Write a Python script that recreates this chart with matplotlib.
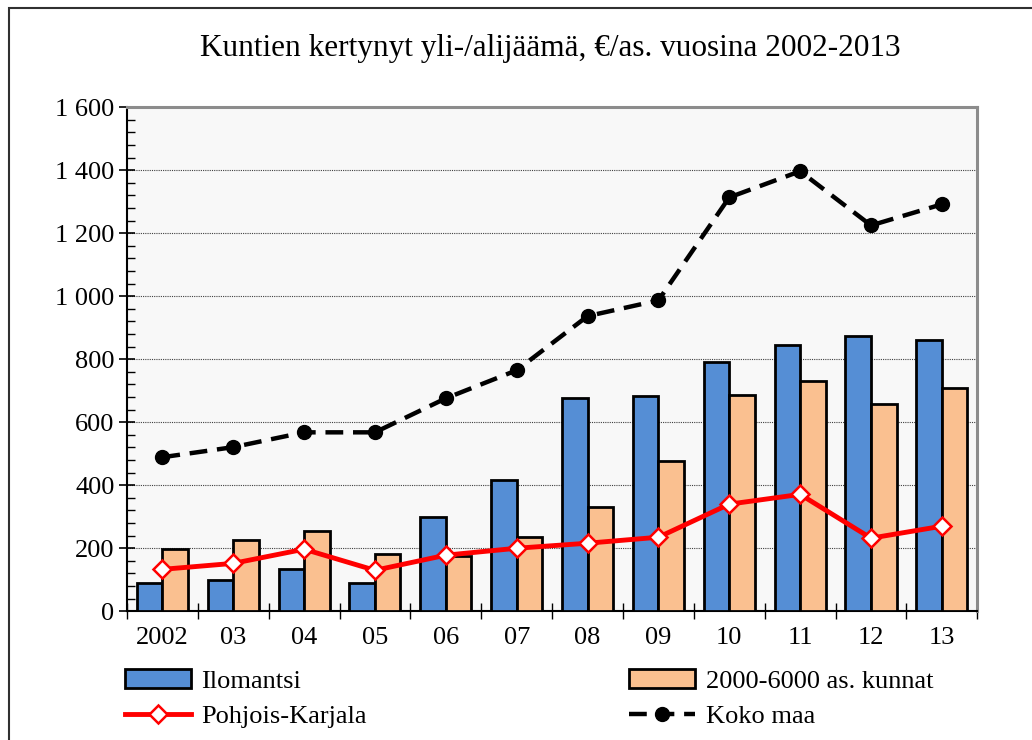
import numpy as np
import matplotlib.pyplot as plt
from matplotlib.ticker import FuncFormatter, MultipleLocator
from matplotlib.patches import Rectangle

plt.rcParams['font.family'] = ['Liberation Serif', 'DejaVu Serif']

# Data
years = ["2002", "03", "04", "05", "06", "07", "08", "09", "10", "11", "12", "13"]
ilomantsi = [89, 98, 133, 89, 298, 416, 676, 683, 790, 845, 873, 860]
kunnat = [197, 225, 254, 181, 175, 237, 330, 476, 686, 730, 657, 708]
pohjois_karjala = [133, 152, 197, 130, 178, 200, 216, 235, 340, 371, 232, 270]
koko_maa = [489, 521, 568, 568, 676, 765, 937, 987, 1314, 1397, 1225, 1292]

fig = plt.figure(figsize=(10.32, 7.4), dpi=100)
ax = fig.add_axes([0.123, 0.174, 0.824, 0.681])
ax.set_facecolor('#f8f8f8')

x = np.arange(len(years))
w = 0.36
b1 = ax.bar(x - w / 2, ilomantsi, w, color='#558ed5', edgecolor='black', linewidth=2,
            label='Ilomantsi', zorder=3)
b2 = ax.bar(x + w / 2, kunnat, w, color='#fac090', edgecolor='black', linewidth=2,
            label='2000-6000 as. kunnat', zorder=3)
l1, = ax.plot(x, pohjois_karjala, color='#ff0000', linewidth=3.5, marker='D', markersize=9,
              markerfacecolor='white', markeredgecolor='#ff0000', markeredgewidth=1.8,
              label='Pohjois-Karjala', zorder=4)
l2, = ax.plot(x, koko_maa, color='black', linewidth=3.2, dashes=(4, 2.2), marker='o',
              markersize=10, label='Koko maa', zorder=5)

ax.set_xlim(-0.5, len(years) - 0.5)
ax.set_ylim(0, 1600)
ax.yaxis.set_major_locator(MultipleLocator(200))
ax.yaxis.set_minor_locator(MultipleLocator(40))
ax.yaxis.set_major_formatter(FuncFormatter(lambda v, p: f"{int(v):,}".replace(",", " ")))
ax.grid(axis='y', which='major', color='#404040', linestyle=(0, (1, 1)), linewidth=0.8, zorder=1)

ax.set_xticks(x)
ax.set_xticklabels(years)
ax.set_xticks(np.arange(-0.5, len(years)), minor=True)
ax.tick_params(axis='x', which='major', length=0, pad=11, labelsize=19)
ax.tick_params(axis='x', which='minor', direction='inout', length=12, width=1)
ax.tick_params(axis='y', which='major', direction='inout', length=12, width=1.2, labelsize=19, pad=3)
ax.tick_params(axis='y', which='minor', direction='in', length=6, width=1)

for s in ['top', 'right']:
    ax.spines[s].set_color('#8c8c8c')
    ax.spines[s].set_linewidth(2.2)
for s in ['left', 'bottom']:
    ax.spines[s].set_linewidth(1.5)

fig.text(0.533, 0.935, "Kuntien kertynyt yli-/alijäämä, €/as. vuosina 2002-2013",
         ha='center', va='center', fontsize=22.5)

fig.legend([b1, l1, b2, l2],
           ['Ilomantsi', 'Pohjois-Karjala', '2000-6000 as. kunnat', 'Koko maa'],
           ncol=2, loc='lower left', bbox_to_anchor=(0.098, -0.016), frameon=False,
           fontsize=19, handlelength=2.5, handletextpad=0.4, columnspacing=9.95,
           labelspacing=0.45)

fig.patches.append(Rectangle((0.0087, -0.05), 1.1, 1.039, transform=fig.transFigure,
                             fill=False, edgecolor='#303030', linewidth=1.5))

fig.savefig('out.png', dpi=100)
